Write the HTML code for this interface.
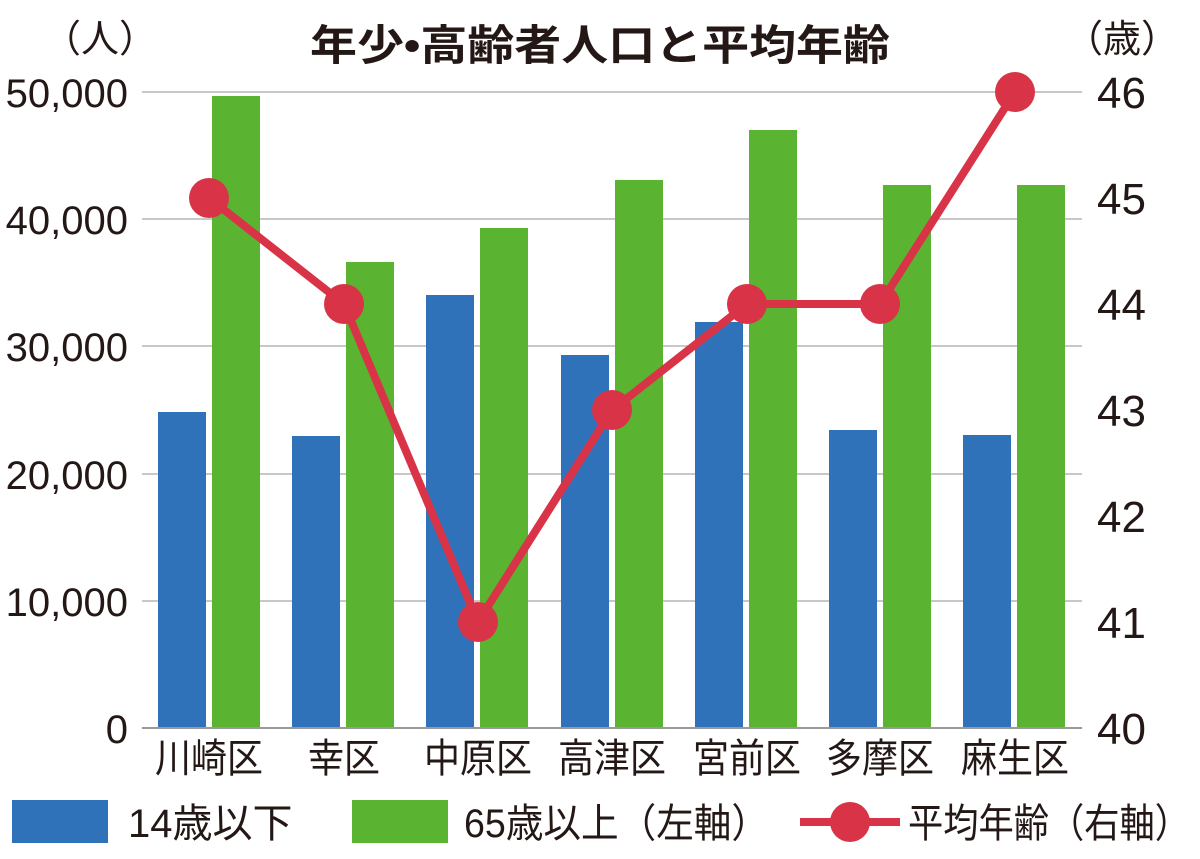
<!DOCTYPE html>
<html><head><meta charset="utf-8"><style>
html,body{margin:0;padding:0;background:#fff;}
svg text{font-family:"Liberation Sans","Noto Sans CJK JP",sans-serif;fill:#231815;}
</style></head><body>
<svg width="1200" height="854" xmlns="http://www.w3.org/2000/svg">
<rect width="1200" height="854" fill="#fff"/>
<g stroke="#c8c8c8" stroke-width="2">
<line x1="142" y1="92" x2="1082" y2="92"/>
<line x1="142" y1="219" x2="1082" y2="219"/>
<line x1="142" y1="346" x2="1082" y2="346"/>
<line x1="142" y1="474" x2="1082" y2="474"/>
<line x1="142" y1="601" x2="1082" y2="601"/>
</g>
<g fill="#3072b9">
<rect x="158" y="412" width="48" height="316"/>
<rect x="292" y="436" width="48" height="292"/>
<rect x="426" y="295" width="48" height="433"/>
<rect x="561" y="355" width="48" height="373"/>
<rect x="695" y="322" width="48" height="406"/>
<rect x="829" y="430" width="48" height="298"/>
<rect x="963" y="435" width="48" height="293"/>
</g>
<g fill="#5ab431">
<rect x="212" y="96" width="48" height="632"/>
<rect x="346" y="262" width="48" height="466"/>
<rect x="480" y="228" width="48" height="500"/>
<rect x="615" y="180" width="48" height="548"/>
<rect x="749" y="130" width="48" height="598"/>
<rect x="883" y="185" width="48" height="543"/>
<rect x="1017" y="185" width="48" height="543"/>
</g>
<line x1="142" y1="728" x2="1082" y2="728" stroke="#999" stroke-width="2"/>
<polyline points="209,198 344,304 478,622 612,410 747,304 880,304 1015,92" fill="none" stroke="#d93347" stroke-width="8" stroke-linejoin="round"/>
<g fill="#d93347">
<circle cx="209" cy="198" r="20"/><circle cx="344" cy="304" r="20"/><circle cx="478" cy="622" r="20"/>
<circle cx="612" cy="410" r="20"/><circle cx="747" cy="304" r="20"/><circle cx="880" cy="304" r="20"/><circle cx="1015" cy="92" r="20"/>
</g>
<text x="310" y="60" font-size="42" font-weight="bold" textLength="580" lengthAdjust="spacingAndGlyphs">年少•高齢者人口と平均年齢</text>
<text x="100" y="52" font-size="38" text-anchor="middle">（人）</text>
<text x="1122" y="52" font-size="38" text-anchor="middle">（歳）</text>
<g font-size="40" text-anchor="end">
<text x="128" y="107">50,000</text>
<text x="128" y="234">40,000</text>
<text x="128" y="361">30,000</text>
<text x="128" y="489">20,000</text>
<text x="128" y="616">10,000</text>
<text x="128" y="743">0</text>
</g>
<g font-size="44">
<text x="1097" y="108">46</text>
<text x="1097" y="214">45</text>
<text x="1097" y="320">44</text>
<text x="1097" y="426">43</text>
<text x="1097" y="532">42</text>
<text x="1097" y="638">41</text>
<text x="1097" y="744">40</text>
</g>
<g font-size="40" text-anchor="middle">
<text x="209" y="772" textLength="108" lengthAdjust="spacingAndGlyphs">川崎区</text>
<text x="344" y="772" textLength="72" lengthAdjust="spacingAndGlyphs">幸区</text>
<text x="478" y="772" textLength="108" lengthAdjust="spacingAndGlyphs">中原区</text>
<text x="612" y="772" textLength="108" lengthAdjust="spacingAndGlyphs">高津区</text>
<text x="747" y="772" textLength="108" lengthAdjust="spacingAndGlyphs">宮前区</text>
<text x="880" y="772" textLength="108" lengthAdjust="spacingAndGlyphs">多摩区</text>
<text x="1015" y="772" textLength="108" lengthAdjust="spacingAndGlyphs">麻生区</text>
</g>
<rect x="12" y="800" width="96" height="43" fill="#3072b9"/>
<text x="128" y="837" font-size="40">14歳以下</text>
<rect x="352" y="800" width="96" height="43" fill="#5ab431"/>
<text x="464" y="837" font-size="40" textLength="305" lengthAdjust="spacingAndGlyphs">65歳以上（左軸）</text>
<line x1="800" y1="822" x2="900" y2="822" stroke="#d93347" stroke-width="8"/>
<circle cx="850" cy="822" r="20" fill="#d93347"/>
<text x="908" y="837" font-size="40" textLength="282" lengthAdjust="spacingAndGlyphs">平均年齢（右軸）</text>
</svg>
</body></html>
